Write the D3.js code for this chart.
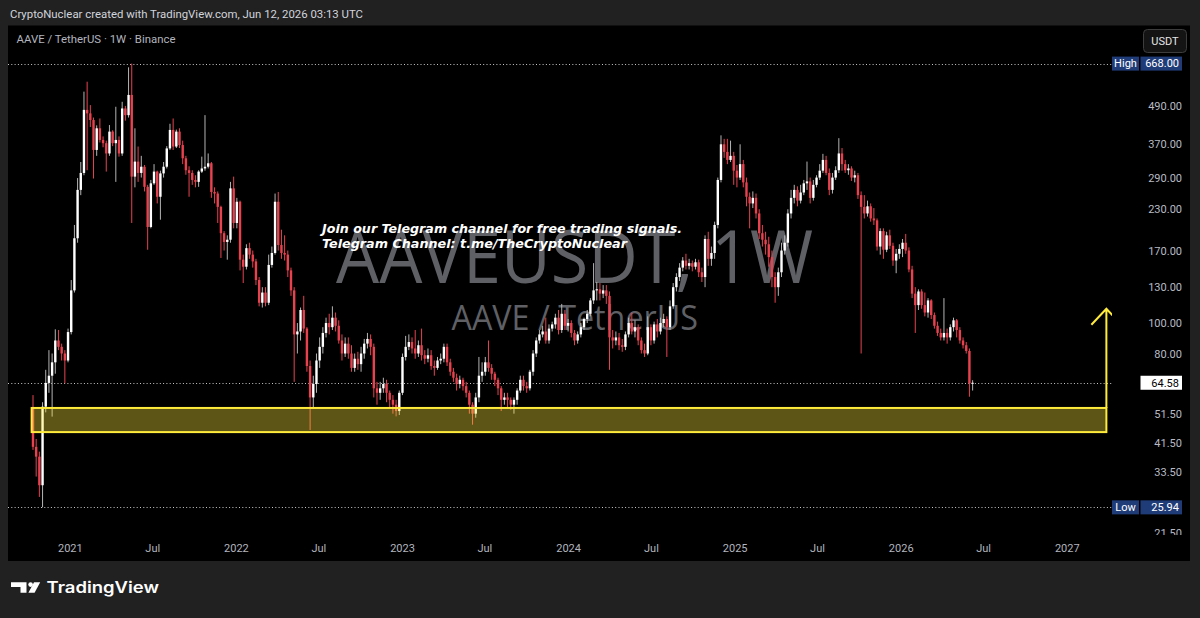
<!DOCTYPE html>
<html><head><meta charset="utf-8">
<script src="https://cdn.jsdelivr.net/npm/d3@7/dist/d3.min.js"></script>
<style>html,body{margin:0;padding:0;background:#212121;}svg{display:block}</style>
</head><body><svg id="c" width="1200" height="618"></svg>
<script>
// ---------- DATA ----------
const firstWeek = "2020-10-12";
const firstOpen = 53.7;
const closes = [
 40.4, 37.6, 30.5, 54.2, 64.5, 68, 75, 88, 84, 80,
 76, 93.6, 127, 186, 265, 300, 476, 464, 442, 355,
 416, 382, 373, 346, 406, 373, 382, 346, 481, 458,
 531, 292, 326, 300, 314, 271, 202, 278, 303, 252,
 299, 314, 359, 411, 364, 406, 368, 334, 306, 300,
 285, 281, 303, 310, 314, 322, 261, 258, 234, 193,
 181, 184, 268, 208, 243, 159, 151, 173, 165, 157,
 137, 116, 125, 116, 153, 167, 243, 177, 167, 165,
 147, 127, 92, 94, 110, 96, 73, 58, 64, 76,
 84, 93, 100, 97, 104, 98, 88, 80, 86, 80,
 72, 77, 74, 80, 86, 89, 84, 62, 60, 62,
 64, 60, 57, 55, 52.5, 60, 78, 84, 87, 83,
 80, 85, 79, 77, 79, 73, 72, 76, 77, 84,
 75, 70, 67, 64, 66, 63, 60, 55, 51.5, 58,
 68, 70, 75, 72, 69, 66, 62, 57, 58, 57,
 55, 57, 61, 66, 63, 62, 70, 80, 88, 92,
 94, 88, 96, 99, 104, 95, 107, 98, 100, 93,
 88, 92, 97, 103, 107, 118, 127, 128, 124, 127,
 122, 90, 88, 90, 85, 84, 92, 100, 94, 97,
 88, 82, 80, 97, 88, 99, 94, 100, 103, 97,
 113, 130, 140, 150, 158, 152, 155, 151, 156, 145,
 140, 185, 160, 167, 205, 285, 370, 350, 330, 340,
 305, 290, 320, 280, 252, 240, 250, 223, 193, 184,
 178, 162, 140, 130, 145, 170, 180, 223, 250, 265,
 245, 260, 278, 282, 250, 275, 290, 305, 330, 300,
 265, 290, 306, 346, 320, 306, 310, 290, 295, 255,
 234, 223, 235, 215, 212, 175, 196, 171, 190, 176,
 158, 166, 172, 180, 170, 148, 124, 114, 126, 114,
 108, 118, 106, 98, 93, 90, 93, 90, 97, 102,
 95, 88, 85, 81.5, 64.3, 64.58
];
const highs = [
 59, 42.8, 39, 56, 71, 82, 80, 95.5, 95, 86,
 82, 96, 137, 205, 289, 325, 544, 585, 493, 450,
 425, 447, 392, 380, 426, 410, 487, 392, 505, 490,
 650, 668, 416, 364, 340, 318, 275, 285, 320, 305,
 305, 325, 365, 430, 447, 412, 416, 380, 340, 315,
 306, 295, 306, 338, 458, 346, 325, 270, 262, 236,
 196, 190, 281, 292, 250, 245, 165, 178, 180, 170,
 160, 140, 130, 130, 165, 175, 258, 261, 198, 190,
 170, 150, 130, 100, 112, 122, 97, 76, 68, 80,
 90, 97, 104, 107, 113, 108, 102, 92, 90, 90,
 85, 80, 81, 84, 89, 93, 92, 86, 65, 65,
 67, 66, 61, 59, 57, 61, 80, 91, 92, 90,
 95, 88, 96, 82, 83, 82, 76, 78, 80, 86,
 86, 77, 72, 69, 68, 67, 65, 61, 56, 60,
 78, 75, 78, 88, 74, 70, 67, 63, 60, 60,
 58, 58, 62, 68, 68, 65, 71, 82, 90, 95,
 98, 104, 99, 101, 107, 110, 115, 110, 103, 102,
 95, 94, 100, 104, 110, 120, 155, 135, 134, 132,
 132, 126, 95, 94, 93, 89, 94, 104, 108, 102,
 99, 90, 86, 105, 99, 101, 103, 104, 107, 105,
 118, 134, 144, 155, 162, 166, 160, 158, 160, 159,
 150, 190, 195, 175, 210, 290, 395, 385, 385, 380,
 350, 318, 370, 330, 290, 260, 262, 258, 230, 205,
 195, 188, 170, 145, 150, 180, 190, 230, 265, 275,
 272, 275, 285, 326, 290, 285, 295, 320, 345, 340,
 310, 300, 315, 387, 360, 330, 320, 315, 305, 300,
 262, 255, 245, 240, 232, 215, 200, 200, 195, 198,
 180, 172, 178, 185, 192, 174, 152, 130, 128, 128,
 125, 120, 119, 108, 101, 96, 120, 96, 99, 104,
 103, 97, 90, 87, 83, 65.8
];
const lows = [
 39.5, 32.5, 28, 25.94, 52, 60, 50.4, 69, 82, 76,
 64.3, 75, 92, 125, 180, 255, 295, 306, 420, 288,
 340, 375, 362, 303, 340, 365, 281, 338, 340, 440,
 450, 208, 270, 281, 290, 262, 171, 200, 275, 240,
 213, 290, 310, 355, 355, 360, 360, 320, 296, 252,
 275, 270, 271, 300, 305, 310, 250, 240, 208, 161,
 170, 159, 180, 200, 200, 147, 134, 148, 160, 150,
 132, 113, 112, 113, 114, 150, 165, 170, 160, 158,
 140, 122, 65, 80, 88, 93, 70, 45.7, 54, 60,
 72, 80, 90, 92, 95, 94, 86, 76, 78, 77,
 70, 70, 71, 70, 77, 83, 79, 58, 55, 57,
 60, 56, 54, 51.5, 50.5, 51, 59, 76, 82, 80,
 77, 78, 76, 74, 75, 71, 68, 71, 74, 75,
 73, 68, 65, 61, 62, 61, 58, 51.5, 47.5, 50,
 56, 65, 68, 70, 66, 63, 59, 52.5, 55, 54,
 53, 51.5, 55, 60, 61, 60, 61, 68, 78, 86,
 90, 86, 86, 94, 96, 92, 93, 95, 94, 90,
 85, 86, 90, 95, 100, 105, 115, 118, 118, 120,
 115, 71, 83, 85, 82, 81, 82, 90, 92, 90,
 85, 80, 78, 79, 85, 86, 90, 92, 97, 78,
 95, 111, 126, 136, 146, 148, 148, 146, 148, 140,
 135, 130, 152, 152, 160, 200, 280, 335, 320, 325,
 275, 270, 285, 270, 235, 200, 232, 215, 185, 175,
 165, 151, 130, 116, 122, 140, 165, 175, 215, 240,
 235, 240, 255, 265, 240, 245, 270, 285, 300, 295,
 255, 258, 285, 300, 305, 300, 296, 283, 280, 248,
 80, 215, 218, 210, 205, 170, 165, 160, 168, 172,
 152, 144, 160, 162, 166, 145, 120, 93, 110, 111,
 105, 104, 103, 96, 91, 88, 88, 86, 88, 94,
 90, 86, 83, 80, 58.3, 61
];
const priceTicks = [490, 370, 290, 230, 170, 130, 100, 80, 51.5, 41.5, 33.5, 21.5];
const timeTickDates = ["2021-01-01","2021-07-01","2022-01-01","2022-07-01","2023-01-01","2023-07-01","2024-01-01","2024-07-01","2025-01-01","2025-07-01","2026-01-01","2026-07-01","2027-01-01"];
const timeTickLabels = ["2021","Jul","2022","Jul","2023","Jul","2024","Jul","2025","Jul","2026","Jul","2027"];
const highLow = [668.00, 25.94];
const lastPrice = 64.58;
const zoneDates = ["2020-10-09", "2027-03-29"];
const zonePrices = [45.0, 53.7];
const arrowPrices = [53.7, 111];
const titleText = "CryptoNuclear created with TradingView.com, Jun 12, 2026 03:13 UTC";
const symbolText = "AAVE / TetherUS · 1W · Binance";
const watermark = ["AAVEUSDT, 1W", "AAVE / TetherUS"];
const noteLines = ["Join our Telegram channel for free trading signals.", "Telegram Channel: t.me/TheCryptoNuclear"];

// ---------- CHART ----------
const svg = d3.select("#c");
const parse = d3.utcParse("%Y-%m-%d");
const t0 = parse(firstWeek);
const dates = closes.map((_, i) => d3.utcDay.offset(t0, 7 * i));
const candles = closes.map((c, i) => {
  const o = i === 0 ? firstOpen : closes[i - 1];
  return {d: dates[i], o, c, h: Math.max(highs[i], o, c), l: Math.min(lows[i], o, c)};
});

const x = d3.scaleUtc().domain([t0, parse("2027-01-01")]).range([33, 1066.8]);
const y = d3.scaleLog().domain([20.88, 879.6]).range([537, 26]);

svg.append("rect").attr("width", 1200).attr("height", 618).attr("fill", "#212121");
svg.append("rect").attr("x", 8).attr("y", 25.5).attr("width", 1182).attr("height", 535.5).attr("fill", "#000");

const defs = svg.append("defs");
defs.append("clipPath").attr("id", "plot").append("rect").attr("x", 8).attr("y", 26).attr("width", 1104).attr("height", 511);
defs.append("clipPath").attr("id", "pax").append("rect").attr("x", 1100).attr("y", 26).attr("width", 90).attr("height", 509);

// header texts
svg.append("text").attr("x", 10).attr("y", 18).text(titleText)
  .attr("font-family", "Roboto, 'Liberation Sans', sans-serif").attr("font-size", 11.6)
  .attr("fill", "#d1d4dc").attr("textLength", 353).attr("lengthAdjust", "spacingAndGlyphs");
svg.append("text").attr("x", 16.5).attr("y", 42.7).text(symbolText)
  .attr("font-family", "Roboto, 'Liberation Sans', sans-serif").attr("font-size", 10.5)
  .attr("fill", "#b2b5be").attr("textLength", 159).attr("lengthAdjust", "spacingAndGlyphs");

// watermark
svg.append("text").attr("x", 336).attr("y", 283).text(watermark[0])
  .attr("font-family", "'Open Sans', sans-serif").attr("font-size", 74)
  .attr("fill", "#5f6065").attr("textLength", 477).attr("lengthAdjust", "spacingAndGlyphs");
svg.append("text").attr("x", 451.5).attr("y", 330).text(watermark[1])
  .attr("font-family", "'Open Sans', sans-serif").attr("font-size", 35)
  .attr("fill", "#5f6065").attr("textLength", 246.5).attr("lengthAdjust", "spacingAndGlyphs");

const plot = svg.append("g").attr("clip-path", "url(#plot)");

// dotted lines
const dotted = (yy, x1) => plot.append("line").attr("x1", 8).attr("x2", x1).attr("y1", yy).attr("y2", yy)
  .attr("stroke", "#c8c8c8").attr("stroke-width", 1).attr("stroke-dasharray", "1,2.3");
dotted(Math.round(y(highLow[0])) + 0.5, 1112);
dotted(Math.round(y(highLow[1])) + 0.5, 1112);
dotted(Math.round(y(lastPrice)) + 0.5, 1140);

// candles
const upBody = "#ffffff", upWick = "#b4b4b4", dnCol = "#e8424f";
const cg = plot.append("g");
cg.selectAll("line.w").data(candles).join("line")
  .attr("x1", d => x(d.d)).attr("x2", d => x(d.d))
  .attr("y1", d => y(d.h)).attr("y2", d => y(d.l))
  .attr("stroke", d => d.c >= d.o ? upWick : dnCol).attr("stroke-width", 1);
cg.selectAll("rect.b").data(candles).join("rect")
  .attr("x", d => x(d.d) - 1.2).attr("width", 2.4)
  .attr("y", d => y(Math.max(d.o, d.c)))
  .attr("height", d => Math.max(1, Math.abs(y(d.o) - y(d.c))))
  .attr("fill", d => d.c >= d.o ? upBody : dnCol);

// zone box
const zx0 = x(parse(zoneDates[0])), zx1 = x(parse(zoneDates[1]));
plot.append("rect").attr("x", zx0).attr("y", y(zonePrices[1]))
  .attr("width", zx1 - zx0).attr("height", y(zonePrices[0]) - y(zonePrices[1]))
  .attr("fill", "rgba(255,235,59,0.36)").attr("stroke", "#ffeb3b").attr("stroke-width", 2);

// arrow
const ay0 = y(arrowPrices[0]), ay1 = y(arrowPrices[1]);
plot.append("path")
  .attr("d", `M${zx1},${ay0}V${ay1}M${zx1 - 15},${ay1 + 16}L${zx1},${ay1}L${zx1 + 15},${ay1 + 16}`)
  .attr("fill", "none").attr("stroke", "#ffeb3b").attr("stroke-width", 2);

// telegram note
noteLines.forEach((t, i) => {
  svg.append("text").attr("x", 322).attr("y", 233.3 + i * 15).text(t)
    .attr("font-family", "'DejaVu Sans', Verdana, sans-serif").attr("font-size", 12.3)
    .attr("font-weight", "bold").attr("font-style", "italic").attr("fill", "#ffffff")
    .attr("textLength", i === 0 ? 360 : 305).attr("lengthAdjust", "spacingAndGlyphs");
});

// x axis
const xAxis = d3.axisBottom(x).tickValues(timeTickDates.map(parse))
  .tickFormat((d, i) => timeTickLabels[i]).tickSize(0).tickPadding(0);
const gx = svg.append("g").attr("transform", "translate(0,548)").call(xAxis);
gx.select(".domain").remove();
gx.selectAll("text").attr("fill", "#b2b5be").attr("font-size", 11)
  .attr("font-family", "Roboto, 'Liberation Sans', sans-serif").attr("dy", "0.35em").attr("y", 0);

// price axis
const yAxis = d3.axisRight(y).tickValues(priceTicks).tickFormat(d3.format(".2f")).tickSize(0);
const gy = svg.append("g").attr("clip-path", "url(#pax)").append("g").attr("transform", "translate(1182,0)").call(yAxis);
gy.select(".domain").remove();
gy.selectAll("text").attr("x", 0).attr("text-anchor", "end").attr("fill", "#b8bbc4")
  .attr("font-size", 11).attr("font-family", "Roboto, 'Liberation Sans', sans-serif");

// High / Low / last labels
const badge = (label, val, fill, txt) => {
  const cy = y(val);
  const g = svg.append("g");
  if (label) {
    g.append("rect").attr("x", 1112).attr("y", cy - 7).attr("width", 27).attr("height", 14).attr("fill", fill);
    g.append("text").attr("x", 1125.5).attr("y", cy).attr("dy", "0.35em").attr("text-anchor", "middle")
      .text(label).attr("fill", txt).attr("font-size", 11).attr("font-family", "Roboto, sans-serif");
  }
  g.append("rect").attr("x", 1140.5).attr("y", cy - 7).attr("width", 41.5).attr("height", 14).attr("fill", fill);
  g.append("text").attr("x", 1179).attr("y", cy).attr("dy", "0.35em").attr("text-anchor", "end")
    .text(d3.format(".2f")(val)).attr("fill", txt).attr("font-size", 11).attr("font-family", "Roboto, sans-serif");
};
badge("High", highLow[0], "#1f3c78", "#ffffff");
badge("Low", highLow[1], "#1f3c78", "#ffffff");
badge(null, lastPrice, "#ffffff", "#000000");

// USDT button
svg.append("rect").attr("x", 1143.5).attr("y", 29.5).attr("width", 43).attr("height", 23).attr("rx", 4)
  .attr("fill", "#141414").attr("stroke", "#3d3d3d");
svg.append("text").attr("x", 1165).attr("y", 41).attr("dy", "0.35em").attr("text-anchor", "middle")
  .text("USDT").attr("fill", "#e6e6e6").attr("font-size", 11).attr("font-family", "Roboto, sans-serif");

// TradingView logo
const logo = svg.append("g").attr("fill", "#ffffff");
logo.append("path").attr("d", "M11,582.3H26.5V592.7H20.5V587H11Z");
logo.append("circle").attr("cx", 30.6).attr("cy", 584.6).attr("r", 2.3);
logo.append("path").attr("d", "M34,582.3H40.2L34.6,592.7H28.4Z");
svg.append("text").attr("x", 46.5).attr("y", 592.7).text("TradingView")
  .attr("font-family", "Inter, 'Open Sans', sans-serif").attr("font-weight", 600).attr("font-size", 15.5)
  .attr("fill", "#ffffff").attr("textLength", 112.5).attr("lengthAdjust", "spacingAndGlyphs");
</script></body></html>
